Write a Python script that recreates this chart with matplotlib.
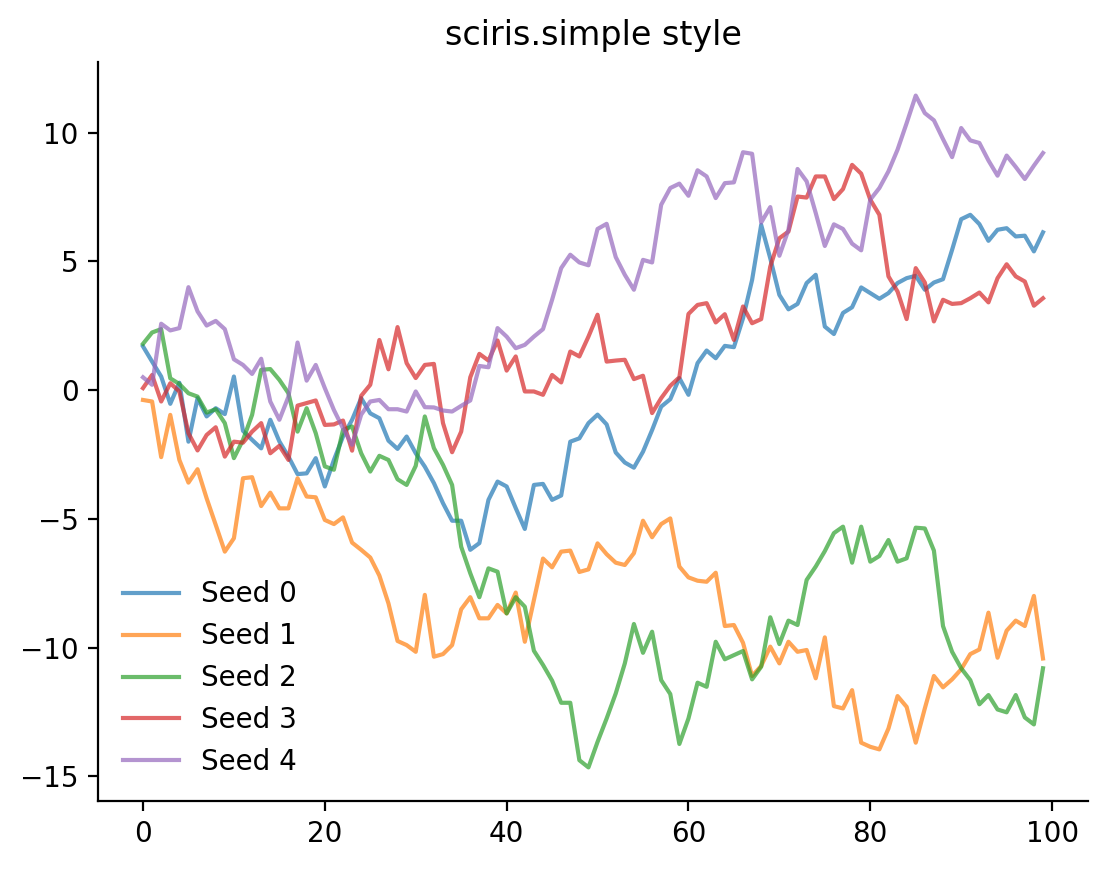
import matplotlib
matplotlib.use("Agg")
import matplotlib.pyplot as plt
import numpy as np

x = list(range(100))

seed0 = [1.70, 1.11, 0.53, -0.53, 0.29, -2.00, -0.31, -1.02, -0.70, -0.93,
         0.53, -1.58, -1.93, -2.26, -1.15, -1.99, -2.58, -3.26, -3.23, -2.64,
         -3.74, -2.71, -1.80, -1.15, -0.31, -0.90, -1.09, -1.96, -2.28, -1.80,
         -2.45, -2.97, -3.61, -4.39, -5.07, -5.07, -6.20, -5.94, -4.26, -3.55,
         -3.74, -4.58, -5.39, -3.68, -3.64, -4.26, -4.09, -2.00, -1.87, -1.28,
         -0.95, -1.33, -2.42, -2.81, -3.01, -2.39, -1.55, -0.64, -0.35, 0.47,
         -0.18, 1.05, 1.54, 1.24, 1.72, 1.67, 2.79, 4.28, 6.42, 5.12,
         3.70, 3.14, 3.35, 4.16, 4.48, 2.47, 2.18, 3.00, 3.22, 3.99,
         3.77, 3.55, 3.77, 4.16, 4.35, 4.44, 3.90, 4.18, 4.31, 5.45,
         6.64, 6.81, 6.45, 5.80, 6.23, 6.29, 5.97, 6.00, 5.39, 6.13]

seed1 = [-0.38, -0.44, -2.60, -0.96, -2.71, -3.59, -3.07, -4.20, -5.23, -6.27,
         -5.75, -3.42, -3.38, -4.50, -3.98, -4.59, -4.59, -3.42, -4.13, -4.16,
         -5.04, -5.20, -4.94, -5.92, -6.20, -6.50, -7.20, -8.28, -9.74, -9.90,
         -10.16, -7.95, -10.35, -10.25, -9.90, -8.51, -8.04, -8.86, -8.86, -8.34,
         -8.67, -7.86, -9.77, -8.15, -6.54, -6.88, -6.27, -6.23, -7.06, -6.96,
         -5.95, -6.37, -6.70, -6.79, -6.33, -5.07, -5.71, -5.20, -4.98, -6.85,
         -7.27, -7.40, -7.44, -7.09, -9.16, -9.12, -9.81, -11.10, -10.71, -9.96,
         -10.61, -9.77, -10.16, -10.09, -11.19, -9.60, -12.27, -12.36, -11.65, -13.69,
         -13.85, -13.95, -13.14, -11.88, -12.30, -13.69, -12.36, -11.10, -11.54, -11.23,
         -10.84, -10.25, -10.07, -8.64, -10.39, -9.34, -8.95, -9.16, -7.99, -10.42]

seed2 = [1.80, 2.24, 2.37, 0.46, 0.24, -0.12, -0.25, -0.87, -0.74, -1.28,
         -2.64, -1.93, -0.96, 0.79, 0.82, 0.40, -0.12, -1.61, -0.70, -1.67,
         -2.96, -3.09, -1.54, -1.41, -2.45, -3.16, -2.55, -2.71, -3.46, -3.68,
         -2.94, -1.02, -2.25, -2.90, -3.68, -6.08, -7.11, -8.04, -6.92, -7.05,
         -8.67, -8.04, -8.41, -10.12, -10.67, -11.28, -12.14, -12.14, -14.37, -14.65,
         -13.66, -12.75, -11.78, -10.61, -9.08, -10.20, -9.38, -11.26, -11.80, -13.74,
         -12.75, -11.36, -11.52, -9.77, -10.45, -10.29, -10.13, -11.23, -10.74, -8.82,
         -9.86, -8.95, -9.12, -7.37, -6.85, -6.25, -5.55, -5.30, -6.70, -5.30,
         -6.66, -6.44, -5.82, -6.66, -6.53, -5.34, -5.37, -6.23, -9.16, -10.16,
         -10.80, -11.26, -12.20, -11.84, -12.40, -12.51, -11.84, -12.71, -12.98, -10.80]

seed3 = [0.08, 0.59, -0.44, 0.27, -0.05, -1.67, -2.34, -1.74, -1.44, -2.58,
         -2.00, -2.04, -1.61, -1.28, -2.45, -2.16, -2.71, -0.60, -0.50, -0.40,
         -1.35, -1.33, -1.18, -2.35, -0.22, 0.21, 1.95, 0.81, 2.45, 1.05,
         0.47, 0.98, 1.02, -1.28, -2.41, -1.61, 0.50, 1.41, 1.15, 1.93,
         0.76, 1.31, -0.05, -0.05, -0.18, 0.59, 0.30, 1.50, 1.31, 2.08,
         2.93, 1.11, 1.15, 1.18, 0.43, 0.56, -0.89, -0.31, 0.17, 0.50,
         2.96, 3.31, 3.38, 2.63, 2.95, 1.95, 3.25, 2.60, 2.76, 4.80,
         5.90, 6.16, 7.52, 7.48, 8.30, 8.30, 7.42, 7.81, 8.75, 8.41,
         7.40, 6.81, 4.42, 3.83, 2.76, 4.74, 4.18, 2.67, 3.51, 3.35,
         3.38, 3.57, 3.79, 3.41, 4.35, 4.89, 4.42, 4.22, 3.28, 3.57]

seed4 = [0.50, 0.21, 2.58, 2.32, 2.41, 4.00, 3.06, 2.51, 2.69, 2.37,
         1.20, 0.98, 0.63, 1.22, -0.44, -1.15, -0.25, 1.85, 0.37, 0.98,
         0.08, -0.77, -1.48, -2.12, -0.95, -0.44, -0.38, -0.74, -0.74, -0.83,
         -0.05, -0.66, -0.67, -0.79, -0.83, -0.61, -0.40, 0.94, 0.89, 2.41,
         2.08, 1.63, 1.76, 2.08, 2.37, 3.51, 4.74, 5.26, 4.96, 4.85,
         6.26, 6.46, 5.17, 4.48, 3.90, 5.06, 4.96, 7.20, 7.85, 8.02,
         7.55, 8.54, 8.30, 7.46, 8.04, 8.07, 9.24, 9.18, 6.51, 7.11,
         5.22, 6.23, 8.59, 8.11, 6.88, 5.60, 6.44, 6.26, 5.69, 5.43,
         7.40, 7.85, 8.50, 9.34, 10.37, 11.44, 10.76, 10.48, 9.75, 9.05,
         10.18, 9.70, 9.60, 8.92, 8.33, 9.11, 8.67, 8.20, 8.72, 9.21]

series = [seed0, seed1, seed2, seed3, seed4]
labels = ["Seed 0", "Seed 1", "Seed 2", "Seed 3", "Seed 4"]

fig = plt.figure(figsize=(5.55, 4.345), dpi=200)
ax = fig.add_axes([98 / 1110, 68 / 869, 990 / 1110, 739 / 869])
for ys, lab in zip(series, labels):
    ax.plot(x, ys, alpha=0.7, lw=1.5, label=lab)
ax.spines["top"].set_visible(False)
ax.spines["right"].set_visible(False)
ax.set_title("sciris.simple style", fontsize=12)
ax.legend(loc="lower left", frameon=False)
fig.savefig("out.png", dpi=200)
